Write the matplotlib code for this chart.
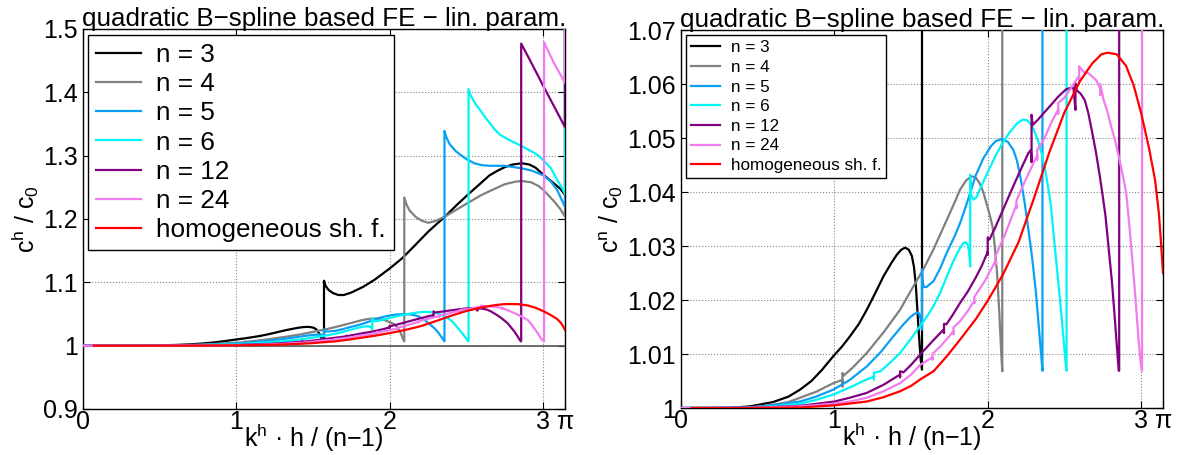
import numpy as np
import matplotlib
matplotlib.use("Agg")
import matplotlib.pyplot as plt

plt.rcParams['font.family'] = ['Liberation Sans', 'DejaVu Sans']
plt.rcParams['mathtext.fontset'] = 'custom'
plt.rcParams['mathtext.rm'] = 'Liberation Sans'
plt.rcParams['mathtext.it'] = 'Liberation Sans'

PI = np.pi

labels = ['n = 3', 'n = 4', 'n = 5', 'n = 6', 'n = 12', 'n = 24', 'homogeneous sh. f.']
colors = ['#000000', '#808080', '#0AA0F5', '#00F5F5', '#800080', '#F07CF0', '#FF0000']

# (k h/(n-1), c/c0) samples; repeated x values are the jumps
n3_pts = [(0, 1.0), (0.3, 1.0), (0.45, 1.0003), (0.6, 1.0011), (0.7, 1.0021), (0.776, 1.0034), (0.85, 1.0050),
          (0.92, 1.0071), (0.993, 1.0096), (1.05, 1.0114), (1.102, 1.0133), (1.16, 1.0156), (1.211, 1.0182),
          (1.27, 1.0215), (1.32, 1.0244), (1.37, 1.0268), (1.407, 1.0284), (1.435, 1.0293), (1.461, 1.0297),
          (1.485, 1.0293), (1.504, 1.0282), (1.518, 1.0262), (1.53, 1.0230), (1.541, 1.0180), (1.552, 1.0130),
          (1.562, 1.0090), (1.5708, 1.0071), (1.5708, 1.1025), (1.58, 1.095), (1.60, 1.088), (1.63, 1.083),
          (1.664, 1.080), (1.70, 1.080), (1.75, 1.084), (1.827, 1.093), (1.9, 1.104), (2.0, 1.122), (2.08, 1.138),
          (2.154, 1.156), (2.25, 1.180), (2.36, 1.204), (2.44, 1.223), (2.52, 1.241), (2.59, 1.256), (2.65, 1.269),
          (2.7, 1.276), (2.75, 1.282), (2.8, 1.286), (2.86, 1.288), (2.91, 1.286), (2.95, 1.281), (3.0, 1.270),
          (3.07, 1.256), (3.11, 1.248), (PI, 1.238), (PI, 1.6)]

n4_pts = [(0, 1.0), (0.45, 1.0001), (0.6, 1.0006), (0.7, 1.0011), (0.776, 1.0019), (0.88, 1.0030), (0.993, 1.0046),
          (1.052, 1.0052), (1.052, 1.0040), (1.052, 1.0065), (1.06, 1.0060), (1.12, 1.0075), (1.211, 1.0102),
          (1.32, 1.0140), (1.428, 1.0182), (1.50, 1.0218), (1.58, 1.0257), (1.646, 1.0294), (1.70, 1.0328),
          (1.754, 1.0362), (1.79, 1.0385), (1.82, 1.0405), (1.86, 1.0422), (1.896, 1.0429), (1.92, 1.0427),
          (1.945, 1.0417), (1.97, 1.0400), (1.99, 1.0380), (2.01, 1.0360), (2.03, 1.0337), (2.045, 1.0300),
          (2.06, 1.0250), (2.075, 1.0175), (2.087, 1.0103), (2.094, 1.0068), (2.094, 1.234), (2.11, 1.222),
          (2.13, 1.213), (2.17, 1.203), (2.21, 1.197), (2.25, 1.194), (2.30, 1.197), (2.36, 1.204), (2.45, 1.217),
          (2.52, 1.227), (2.59, 1.237), (2.65, 1.244), (2.75, 1.255), (2.82, 1.259), (2.86, 1.260), (2.92, 1.258),
          (2.97, 1.252), (3.0, 1.246), (3.07, 1.228), (3.11, 1.216), (PI, 1.204), (PI, 1.6)]

n5_pts = [(0, 1.0), (0.45, 1.0001), (0.6, 1.0005), (0.776, 1.0012), (0.88, 1.0021), (0.993, 1.0034), (1.1, 1.0052),
          (1.211, 1.0077), (1.3, 1.0103), (1.385, 1.0133), (1.45, 1.0155), (1.49, 1.0167), (1.515, 1.0173),
          (1.541, 1.0177), (1.553, 1.0175), (1.562, 1.0165), (1.5708, 1.0145), (1.5708, 1.0257), (1.576, 1.0232),
          (1.583, 1.0224), (1.60, 1.0224), (1.646, 1.0235), (1.69, 1.0259), (1.733, 1.0288), (1.78, 1.0316),
          (1.82, 1.0343), (1.87, 1.0385), (1.92, 1.0430), (1.97, 1.0462), (2.018, 1.0484), (2.05, 1.0494),
          (2.09, 1.0498), (2.13, 1.0493), (2.166, 1.0478), (2.19, 1.0458), (2.215, 1.0423), (2.24, 1.0380),
          (2.264, 1.0331), (2.288, 1.0280), (2.313, 1.0215), (2.337, 1.0134), (2.350, 1.0090), (2.356, 1.0069),
          (2.356, 1.339), (2.37, 1.328), (2.39, 1.318), (2.43, 1.307), (2.49, 1.296), (2.55, 1.288), (2.6, 1.285),
          (2.65, 1.284), (2.75, 1.284), (2.86, 1.280), (2.93, 1.276), (3.0, 1.269), (3.05, 1.259), (3.09, 1.246),
          (PI, 1.219), (PI, 1.6)]

n6_pts = [(0, 1.0), (0.45, 1.0), (0.6, 1.0003), (0.776, 1.0008), (0.88, 1.0015), (0.993, 1.0025), (1.1, 1.0038),
          (1.211, 1.0053), (1.257, 1.0058), (1.257, 1.0053), (1.257, 1.0065), (1.30, 1.0068), (1.36, 1.0083),
          (1.428, 1.0102), (1.49, 1.0125), (1.559, 1.0152), (1.6, 1.0168), (1.646, 1.0189), (1.69, 1.0214),
          (1.733, 1.0244), (1.78, 1.0275), (1.82, 1.0297), (1.84, 1.0305), (1.855, 1.0307), (1.868, 1.0303),
          (1.877, 1.0290), (1.883, 1.0270), (1.885, 1.0262), (1.885, 1.0432), (1.888, 1.0405), (1.893, 1.0392),
          (1.908, 1.0386), (1.925, 1.0390), (1.945, 1.0403), (2.0, 1.0437), (2.043, 1.0463), (2.09, 1.0488),
          (2.141, 1.0510), (2.19, 1.0527), (2.227, 1.0534), (2.255, 1.0533), (2.276, 1.0527), (2.30, 1.0515),
          (2.325, 1.0497), (2.35, 1.0472), (2.374, 1.0441), (2.395, 1.0405), (2.411, 1.0374), (2.436, 1.0300),
          (2.455, 1.0245), (2.472, 1.0195), (2.488, 1.0145), (2.500, 1.0105), (2.509, 1.0075), (2.513, 1.0069),
          (2.513, 1.405), (2.525, 1.396), (2.54, 1.389), (2.56, 1.381), (2.588, 1.372), (2.62, 1.361),
          (2.653, 1.351), (2.685, 1.341), (2.718, 1.333), (2.76, 1.327), (2.81, 1.321), (2.86, 1.315),
          (2.93, 1.306), (2.97, 1.300), (3.0, 1.293), (3.05, 1.280), (3.09, 1.262), (3.12, 1.250), (PI, 1.240),
          (PI, 1.6)]

n12_pts = [(0, 1.0), (0.45, 1.0), (0.776, 1.0004), (1.0, 1.0012), (1.1, 1.0019), (1.211, 1.0028), (1.32, 1.0043),
           (1.428, 1.0062), (1.428, 1.0057), (1.428, 1.0068), (1.45, 1.0066), (1.5, 1.0080), (1.559, 1.0099),
           (1.64, 1.0124), (1.714, 1.0146), (1.714, 1.0139), (1.714, 1.0156), (1.73, 1.0155), (1.77, 1.0172),
           (1.82, 1.0195), (1.87, 1.0216), (1.92, 1.0241), (1.96, 1.0263), (1.999, 1.0289), (1.999, 1.0284),
           (1.999, 1.0316), (2.01, 1.0312), (2.043, 1.0331), (2.1, 1.0368), (2.166, 1.0411), (2.22, 1.0445),
           (2.264, 1.0472), (2.28, 1.0478), (2.285, 1.0455), (2.285, 1.0543), (2.292, 1.0524), (2.33, 1.0535),
           (2.37, 1.0548), (2.411, 1.0561), (2.46, 1.0577), (2.509, 1.0590), (2.54, 1.0593), (2.558, 1.0593),
           (2.571, 1.0552), (2.571, 1.0601), (2.58, 1.0588), (2.605, 1.0582), (2.632, 1.0570), (2.655, 1.0546),
           (2.681, 1.0509), (2.705, 1.0473), (2.73, 1.0429), (2.75, 1.0390), (2.767, 1.0355), (2.79, 1.0288),
           (2.81, 1.0230), (2.828, 1.0164), (2.842, 1.0110), (2.853, 1.0069), (2.856, 1.0069), (2.856, 1.477),
           (2.93, 1.443), (3.0, 1.410), (3.07, 1.378), (PI, 1.345), (PI, 1.6)]

n24_pts = [(0, 1.0), (0.45, 1.0), (0.776, 1.0003), (1.0, 1.0008), (1.1, 1.0012), (1.211, 1.0019), (1.32, 1.0031),
           (1.428, 1.0046), (1.5, 1.0062), (1.559, 1.0080), (1.639, 1.0094), (1.639, 1.0090), (1.639, 1.0100),
           (1.70, 1.0117), (1.776, 1.0142), (1.776, 1.0137), (1.776, 1.0149), (1.82, 1.0161), (1.87, 1.0180),
           (1.912, 1.0199), (1.912, 1.0194), (1.912, 1.0206), (1.98, 1.0235), (2.049, 1.0272), (2.049, 1.0266),
           (2.049, 1.0281), (2.11, 1.0320), (2.186, 1.0376), (2.186, 1.0370), (2.186, 1.0384), (2.25, 1.0425),
           (2.322, 1.0468), (2.322, 1.0460), (2.322, 1.0478), (2.37, 1.0500), (2.411, 1.0527), (2.459, 1.0553),
           (2.459, 1.0545), (2.459, 1.0565), (2.50, 1.0575), (2.534, 1.0589), (2.565, 1.0603), (2.595, 1.0615),
           (2.595, 1.0606), (2.595, 1.0633), (2.625, 1.0622), (2.656, 1.0620), (2.706, 1.0607), (2.732, 1.0592),
           (2.732, 1.0580), (2.732, 1.0600), (2.755, 1.0570), (2.78, 1.0548), (2.804, 1.0521), (2.83, 1.0495),
           (2.853, 1.0466), (2.88, 1.0430), (2.902, 1.0398), (2.92, 1.0345), (2.94, 1.0280), (2.963, 1.0200),
           (2.98, 1.0135), (2.995, 1.0085), (3.005, 1.0069), (3.005, 1.479), (3.07, 1.446), (PI, 1.415), (PI, 1.6)]

hom_pts = [(0.07, 1.0), (0.45, 1.0), (0.776, 1.0001), (1.0, 1.0005), (1.211, 1.0012), (1.32, 1.0020), (1.428, 1.0031),
           (1.5, 1.0041), (1.559, 1.0053), (1.646, 1.0068), (1.733, 1.0096), (1.82, 1.0127), (1.92, 1.0164),
           (2.0, 1.0199), (2.1, 1.0248), (2.2, 1.0307), (2.3, 1.0388), (2.4, 1.0473), (2.5, 1.0548), (2.6, 1.0605),
           (2.68, 1.0638), (2.74, 1.0655), (2.78, 1.0658), (2.84, 1.0655), (2.9, 1.0634), (2.95, 1.0598),
           (3.0, 1.0545), (3.05, 1.0482), (3.09, 1.0422), (3.115, 1.0360), (3.13, 1.0300), (PI, 1.0250)]

curves = [n3_pts, n4_pts, n5_pts, n6_pts, n12_pts, n24_pts, hom_pts]

xticks = [0, 1, 2, 3, PI]
xticklabels = ['0', '1', '2', '3', 'π']
left_yticks = [0.9, 1.0, 1.1, 1.2, 1.3, 1.4, 1.5]
left_yticklabels = ['0.9', '1', '1.1', '1.2', '1.3', '1.4', '1.5']
right_yticks = [1.0, 1.01, 1.02, 1.03, 1.04, 1.05, 1.06, 1.07]
right_yticklabels = ['1', '1.01', '1.02', '1.03', '1.04', '1.05', '1.06', '1.07']

title = 'quadratic B\u2212spline based FE \u2212 lin. param.'
xlabel = 'k$^\\mathregular{h}$ \u00b7 h / (n\u22121)'

fig = plt.figure(figsize=(11.9, 4.55), dpi=100)
ax1 = fig.add_axes([83 / 1190, 46 / 455, 482 / 1190, 380 / 455])
ax2 = fig.add_axes([681 / 1190, 47 / 455, 482 / 1190, 378 / 455])


def style(ax, yticks, yticklabels, ylim, ylabel, legend_size, legend_spacing, legend_top):
    for pts, c, lab in zip(curves, colors, labels):
        x, y = zip(*pts)
        ax.plot(x, y, color=c, lw=1.6, label=lab, zorder=3)
    ax.set_xlim(0, PI)
    ax.set_ylim(*ylim)
    ax.set_xticks(xticks)
    ax.set_xticklabels(xticklabels)
    ax.set_yticks(yticks)
    ax.set_yticklabels(yticklabels)
    ax.tick_params(direction='in', top=True, right=True, length=5, width=0.8,
                   labelsize=18, colors='black')
    ax.tick_params(axis='x', pad=1)
    ax.grid(True, ls=':', color='#888888', lw=0.8)
    for s in ax.spines.values():
        s.set_linewidth(1.0)
    ax.set_title(title, fontsize=18.7, pad=2)
    ax.set_ylabel(ylabel, fontsize=18, labelpad=2)
    ax.set_xlabel(xlabel, fontsize=18)
    ax.xaxis.set_label_coords(0.48, -0.035)
    leg = ax.legend(loc='upper left', bbox_to_anchor=(0.011, legend_top), borderaxespad=0,
                    fontsize=legend_size, labelspacing=legend_spacing, handlelength=1.7,
                    handletextpad=0.6, borderpad=0.3, fancybox=False, framealpha=1,
                    edgecolor='black')
    leg.get_frame().set_linewidth(1.0)
    leg.set_zorder(5)


style(ax1, left_yticks, left_yticklabels, (0.9, 1.5), 'c$^\\mathregular{h}$ / c$_\\mathregular{0}$',
      18.8, 0.2, 0.984)
# reference line at unity in the overview panel
ax1.plot([0, PI], [1.0, 1.0], color='#555555', lw=1.2, zorder=2.9)
style(ax2, right_yticks, right_yticklabels, (1.0, 1.07), 'c$^\\mathregular{n}$ / c$_\\mathregular{0}$',
      12.3, 0.27, 0.986)

fig.savefig('out.png', dpi=100)
